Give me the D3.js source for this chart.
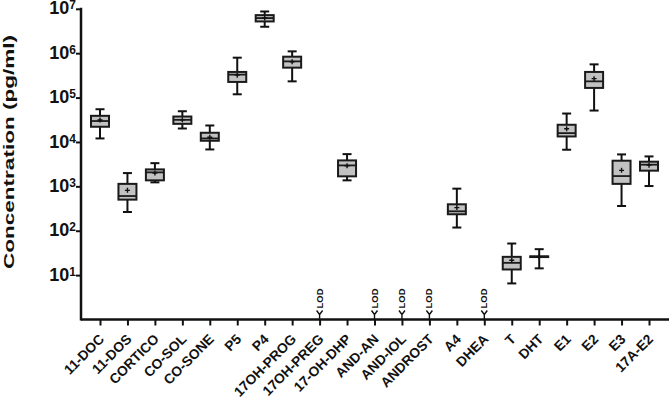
<!DOCTYPE html>
<html>
<head>
<meta charset="utf-8">
<script src="https://cdn.jsdelivr.net/npm/d3@7"></script>
<style>
  body { margin: 0; background: #fff; }
  svg { display: block; font-family: "Liberation Sans", Arial, sans-serif; }
</style>
</head>
<body>
<div id="wrapper"></div>
<script>
// categories along the x axis
const categories = ["11-DOC", "11-DOS", "CORTICO", "CO-SOL", "CO-SONE", "P5", "P4",
  "17OH-PROG", "17OH-PREG", "17-OH-DHP", "AND-AN", "AND-IOL", "ANDROST", "A4",
  "DHEA", "T", "DHT", "E1", "E2", "E3", "17A-E2"];

// box plot values in pg/ml (null = below limit of detection)
const whiskerLow  = [12000, 264, 1230, 20100, 6780, 118600, 3.94e6, 232000, null, 1365, null, null, null, 118, null, 6.5, 14.2, 6680, 51000, 361, 1016];
const q1          = [22000, 502, 1365, 25600, 10640, 225000, 5.19e6, 472000, null, 1680, null, null, null, 235, null, 13.4, 25.5, 13300, 165000, 1137, 2255];
const median      = [29600, 605, 2065, 31500, 12000, 329000, 6.18e6, 654000, null, 2965, null, null, null, 274, null, 18.9, 26, 15800, 232000, 1704, 3075];
const q3          = [38800, 1137, 2410, 37400, 16100, 378000, 7.2e6, 834000, null, 3840, null, null, null, 394, null, 25.8, 26.5, 24400, 378000, 3780, 3590];
const whiskerHigh = [54600, 1990, 3330, 49200, 23500, 792000, 8.7e6, 1.1e6, null, 5320, null, null, null, 887, null, 51.5, 38.4, 43700, 560000, 5240, 4720];
const mean        = [31200, 813, 1990, 31500, 12800, 320000, 6.2e6, 640000, null, 2900, null, null, null, 332, null, 21.7, 26, 19800, 267000, 2290, 3000];

const lodCategories = ["17OH-PREG", "AND-AN", "AND-IOL", "ANDROST", "DHEA"];
const yTicks = [10, 100, 1e3, 1e4, 1e5, 1e6, 1e7];

const data = categories.map((c, i) => ({
  name: c, lo: whiskerLow[i], q1: q1[i], med: median[i], q3: q3[i], hi: whiskerHigh[i], mean: mean[i]
}));

const width = 669, height = 408;
const axisX = 81;

const svg = d3.select("#wrapper").append("svg")
  .attr("width", width)
  .attr("height", height);

// scales
const yScale = d3.scaleLog()
  .domain([1, 1e7])
  .range([319.5, 8.8]);

const xScale = d3.scalePoint()
  .domain(categories)
  .range([100, 649]);

// x axis
const xAxis = svg.append("g")
  .attr("transform", `translate(0,${yScale(1)})`)
  .call(d3.axisBottom(xScale).tickSize(6).tickSizeOuter(0).tickFormat(""));
xAxis.select(".domain").attr("d", `M${axisX},0H${width}`).attr("stroke", "#111").attr("stroke-width", 2.5);
xAxis.selectAll(".tick line").attr("stroke", "#111").attr("stroke-width", 2);

svg.append("g").selectAll("text")
  .data(categories)
  .join("text")
    .attr("transform", d => `translate(${xScale(d) + 5},340) rotate(-45)`)
    .attr("text-anchor", "end")
    .attr("font-size", 13.8)
    .attr("font-weight", "bold")
    .attr("fill", "#111")
    .text(d => d);

// y axis
const yAxis = svg.append("g")
  .attr("transform", `translate(${axisX},0)`)
  .call(d3.axisLeft(yScale).tickValues(yTicks).tickSize(5).tickSizeOuter(0).tickFormat(""));
yAxis.select(".domain").attr("d", `M0,${yScale(1e7) - 1}V${yScale(1) + 1}`).attr("stroke", "#111").attr("stroke-width", 2.5);
yAxis.selectAll(".tick line").attr("stroke", "#111").attr("stroke-width", 2);

const yLabels = svg.append("g").selectAll("text")
  .data(yTicks)
  .join("text")
    .attr("x", axisX - 5)
    .attr("y", d => yScale(d))
    .attr("dy", "0.35em")
    .attr("text-anchor", "end")
    .attr("font-weight", "bold")
    .attr("fill", "#111");
yLabels.append("tspan").attr("font-size", 18).text("10");
yLabels.append("tspan").attr("font-size", 12).attr("dy", -5).text(d => Math.round(Math.log10(d)));

svg.append("text")
  .attr("transform", `translate(14,152) rotate(-90)`)
  .attr("text-anchor", "middle")
  .attr("font-size", 15)
  .attr("font-weight", "bold")
  .attr("fill", "#111")
  .attr("textLength", 234)
  .attr("lengthAdjust", "spacingAndGlyphs")
  .text("Concentration (pg/ml)");

// boxes
const boxW = 18, capW = 9;
const boxes = svg.append("g")
  .selectAll("g")
  .data(data.filter(d => d.med != null))
  .join("g")
    .attr("transform", d => `translate(${xScale(d.name)},0)`);

boxes.append("line")
  .attr("y1", d => yScale(d.lo))
  .attr("y2", d => yScale(d.hi))
  .attr("stroke", "#111").attr("stroke-width", 2);

boxes.selectAll(".cap")
  .data(d => [d.lo, d.hi])
  .join("line")
    .attr("class", "cap")
    .attr("x1", -capW / 2).attr("x2", capW / 2)
    .attr("y1", v => yScale(v)).attr("y2", v => yScale(v))
    .attr("stroke", "#111").attr("stroke-width", 2);

boxes.append("rect")
  .attr("x", -boxW / 2)
  .attr("width", boxW)
  .attr("y", d => yScale(d.q3))
  .attr("height", d => yScale(d.q1) - yScale(d.q3))
  .attr("fill", "#c2c2c2")
  .attr("stroke", "#1a1a1a")
  .attr("stroke-width", 2);

boxes.append("line")
  .attr("x1", -boxW / 2).attr("x2", boxW / 2)
  .attr("y1", d => yScale(d.med)).attr("y2", d => yScale(d.med))
  .attr("stroke", "#1a1a1a").attr("stroke-width", 1.8);

// mean markers
boxes.append("path")
  .attr("d", d => `M-2.5,${yScale(d.mean)}h5M0,${yScale(d.mean) - 2.5}v5`)
  .attr("stroke", "#111").attr("stroke-width", 1.4);

// LOD markers
const lod = svg.append("g")
  .selectAll("g")
  .data(lodCategories)
  .join("g")
    .attr("transform", d => `translate(${xScale(d)},${yScale(1)})`);

lod.append("path")
  .attr("d", "M-3,-9L0,-5L3,-9M0,-5V0")
  .attr("fill", "none")
  .attr("stroke", "#111").attr("stroke-width", 1.4);

lod.append("text")
  .attr("transform", "translate(3,-11) rotate(-90)")
  .attr("font-size", 9)
  .attr("font-weight", "bold")
  .attr("fill", "#111")
  .attr("textLength", 20)
  .attr("lengthAdjust", "spacingAndGlyphs")
  .text("LOD");
</script>
</body>
</html>
